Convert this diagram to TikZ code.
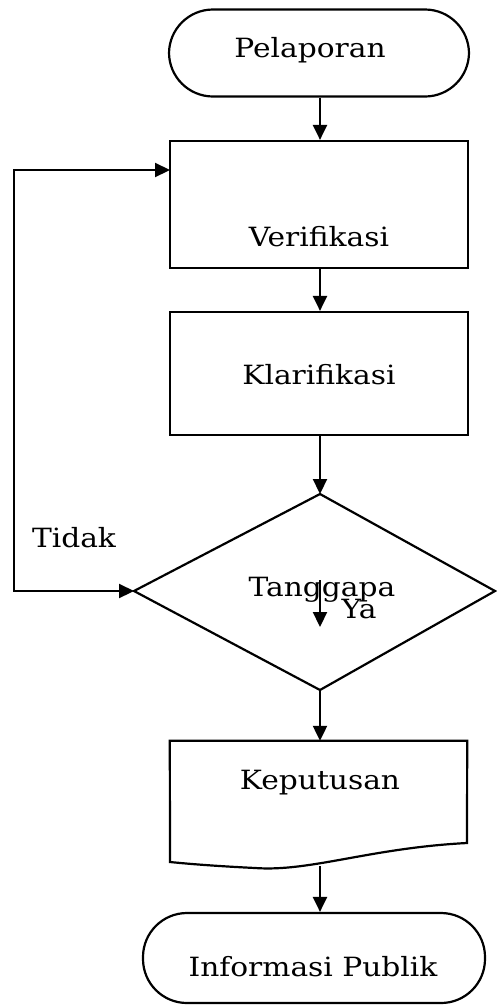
\documentclass[tikz,border=0pt]{standalone}
\usepackage{fontspec}
\setmainfont{DejaVu Serif}[FakeStretch=1.12]
\usetikzlibrary{arrows.meta}
\tikzset{
  every picture/.style={x=1pt,y=-1pt},
  ln/.style={line width=2.2pt, line join=miter},
  tip/.tip={Triangle[width=14pt,length=15pt]},
  arr/.style={ln, -tip},
  boxs/.style={draw, line width=2.2pt, rectangle, inner sep=0pt},
  term/.style={boxs, rounded corners=44pt},
  txt/.style={font=\fontsize{26.5}{30}\selectfont, inner sep=0pt},
  ghost/.style={rectangle, inner sep=0pt}
}
\begin{document}
\begin{tikzpicture}
\useasboundingbox (0,0) rectangle (497,1005);
% nodes
\node[term, minimum width=300pt, minimum height=87pt] (pel) at (319,53) {};
\node[txt] (pelT) at (310,50) {Pelaporan};
\node[boxs, minimum width=298pt, minimum height=127pt] (ver) at (319,204.5) {};
\node[txt] (verT) at (319,237) {Verifikasi};
\node[boxs, minimum width=298pt, minimum height=123pt] (kla) at (319,373.5) {};
\node[txt] (klaT) at (319,375) {Klarifikasi};
% diamond
\coordinate (dt) at (320,494);
\coordinate (dr) at (495,591);
\coordinate (db) at (320,690);
\coordinate (dl) at (134,591);
\draw[ln] (dt) -- (dr) -- (db) -- (dl) -- cycle;
\node[txt] (tanT) at (322,590) {Tanggapa};
\node[txt] (yaT) at (359,609) {Ya};
\coordinate (ya1) at (320,580);
\coordinate (ya2) at (320,627);
% document
\node[ghost, minimum width=297pt, minimum height=125pt] (kep) at (318.5,803.5) {};
\draw[ln] (kep.north west) -- (kep.north east) -- (467,843)
  .. controls (370,848) and (310,872) .. (255,868)
  .. controls (215,866) and (190,864) .. (170,862) -- cycle;
\node[txt] (kepT) at (320,783) {Keputusan};
\node[term, minimum width=342pt, minimum height=90pt] (inf) at (314,958) {};
\node[txt] (infT) at (313,967) {Informasi Publik};
\node[txt] (tidT) at (74,538) {Tidak};
% connectors
\draw[arr] (pel.south -| 320,0) -- (ver.north -| 320,0);
\draw[arr] (ver.south -| 320,0) -- (kla.north -| 320,0);
\draw[arr] (kla.south -| 320,0) -- (dt);
\draw[arr] (db) -- (kep.north -| 320,0);
\draw[arr] (kep.south -| 320,0) -- (inf.north -| 320,0);
\draw[arr] (ya1) -- (ya2);
\coordinate (lpA) at (14,591);
\coordinate (vin) at (170,170);
\draw[ln, tip-tip] (dl) -- (lpA) |- (vin);
\end{tikzpicture}
\end{document}
